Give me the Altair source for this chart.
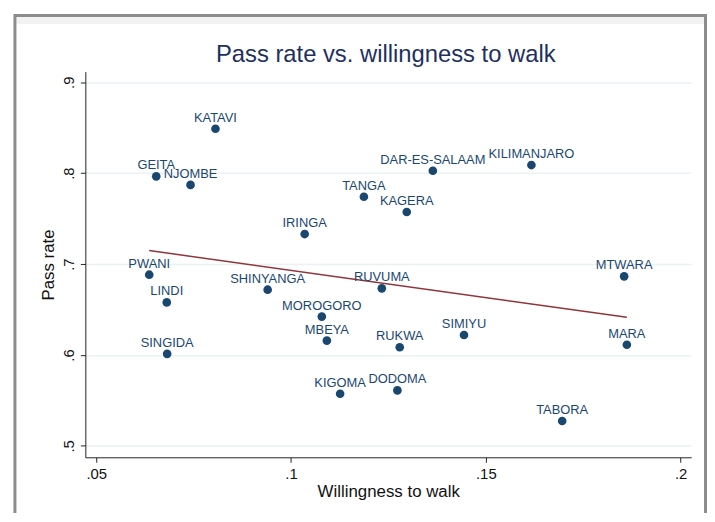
import altair as alt
import pandas as pd

regions = ["KATAVI", "GEITA", "NJOMBE", "DAR-ES-SALAAM", "KILIMANJARO", "TANGA",
           "KAGERA", "IRINGA", "PWANI", "MTWARA", "SHINYANGA", "RUVUMA", "LINDI",
           "MOROGORO", "MBEYA", "RUKWA", "SIMIYU", "MARA", "SINGIDA", "KIGOMA",
           "DODOMA", "TABORA"]
willingness = [0.0806, 0.0654, 0.0742, 0.1364, 0.1617, 0.1187,
               0.1297, 0.1035, 0.0636, 0.1855, 0.0940, 0.1233, 0.0681,
               0.1079, 0.1092, 0.1279, 0.1444, 0.1862, 0.0682, 0.1126,
               0.1273, 0.1696]
pass_rate = [0.8488, 0.7965, 0.7871, 0.8027, 0.8089, 0.7741,
             0.7573, 0.7330, 0.6883, 0.6865, 0.6718, 0.6733, 0.6578,
             0.6422, 0.6158, 0.6085, 0.6220, 0.6112, 0.6012, 0.5573,
             0.5610, 0.5273]

x_ticks = [0.05, 0.1, 0.15, 0.2]
y_ticks = [0.5, 0.6, 0.7, 0.8, 0.9]
title_text = ["Pass rate vs. willingness to walk"]

df = pd.DataFrame({"region": regions, "willingness": willingness, "pass_rate": pass_rate})

FONT = "Liberation Sans"
NAVY = "#1a476f"

x_enc = alt.X("willingness:Q",
              scale=alt.Scale(domain=[0.0472, 0.2027], nice=False, zero=False),
              axis=alt.Axis(values=x_ticks, format=".2~f",
                            labelExpr="replace(datum.label, '0.', '.')",
                            title="Willingness to walk", grid=False,
                            labelFontSize=15, titleFontSize=17,
                            labelPadding=4, titlePadding=3,
                            tickSize=5, labelFlush=False))
y_enc = alt.Y("pass_rate:Q",
              scale=alt.Scale(domain=[0.4874, 0.9117], nice=False, zero=False),
              axis=alt.Axis(values=y_ticks, format=".1f",
                            labelExpr="replace(datum.label, '0.', '.')",
                            title="Pass rate", grid=True, gridColor="#eaf2f3",
                            gridWidth=1.5, labelAngle=270,
                            labelFontSize=15, titleFontSize=17,
                            labelPadding=4, titlePadding=4,
                            tickSize=5, labelFlush=False))

base = alt.Chart(df)

band = alt.Chart(pd.DataFrame({"k": [0]})).mark_rect(
    fill="#f2f2f2"
).encode(x=alt.value(-69.5), x2=alt.value(624), y=alt.value(-55), y2=alt.value(-48))

frame = alt.Chart(pd.DataFrame({"k": [0]})).mark_rect(
    fillOpacity=0, stroke="#8c8c8c", strokeWidth=3
).encode(x=alt.value(-71), x2=alt.value(625.5), y=alt.value(-56.5), y2=alt.value(520))

title = alt.Chart(pd.DataFrame({"t": title_text})).mark_text(
    fontSize=24, font=FONT, color="#1e3060", align="center", baseline="alphabetic"
).encode(x=alt.value(303), y=alt.value(-9.3), text="t:N")

points = base.mark_circle(size=76, opacity=1, color=NAVY).encode(x=x_enc, y=y_enc)

labels = base.mark_text(fontSize=13, font=FONT, color=NAVY, baseline="alphabetic",
                        align="center", dy=-7).encode(
    x="willingness:Q", y="pass_rate:Q", text="region:N")

fit = base.transform_regression("willingness", "pass_rate").mark_line(
    color="#90353b", strokeWidth=1.5).encode(x="willingness:Q", y="pass_rate:Q")

chart = alt.layer(band, frame, title, points, fit, labels).properties(
    width=611, height=389,
    autosize=alt.AutoSizeParams(type="none"),
    padding={"left": 78, "top": 62, "right": 16, "bottom": 54},
).configure(font=FONT, background="white").configure_view(stroke=None).configure_axis(
    domainColor="#222222", tickColor="#222222", labelColor="#111111",
    titleColor="#111111", titleFontWeight="normal", labelFont=FONT, titleFont=FONT,
    domainWidth=1, tickWidth=1
)

chart.save("out.html", embed_options={"renderer": "svg", "actions": False})
